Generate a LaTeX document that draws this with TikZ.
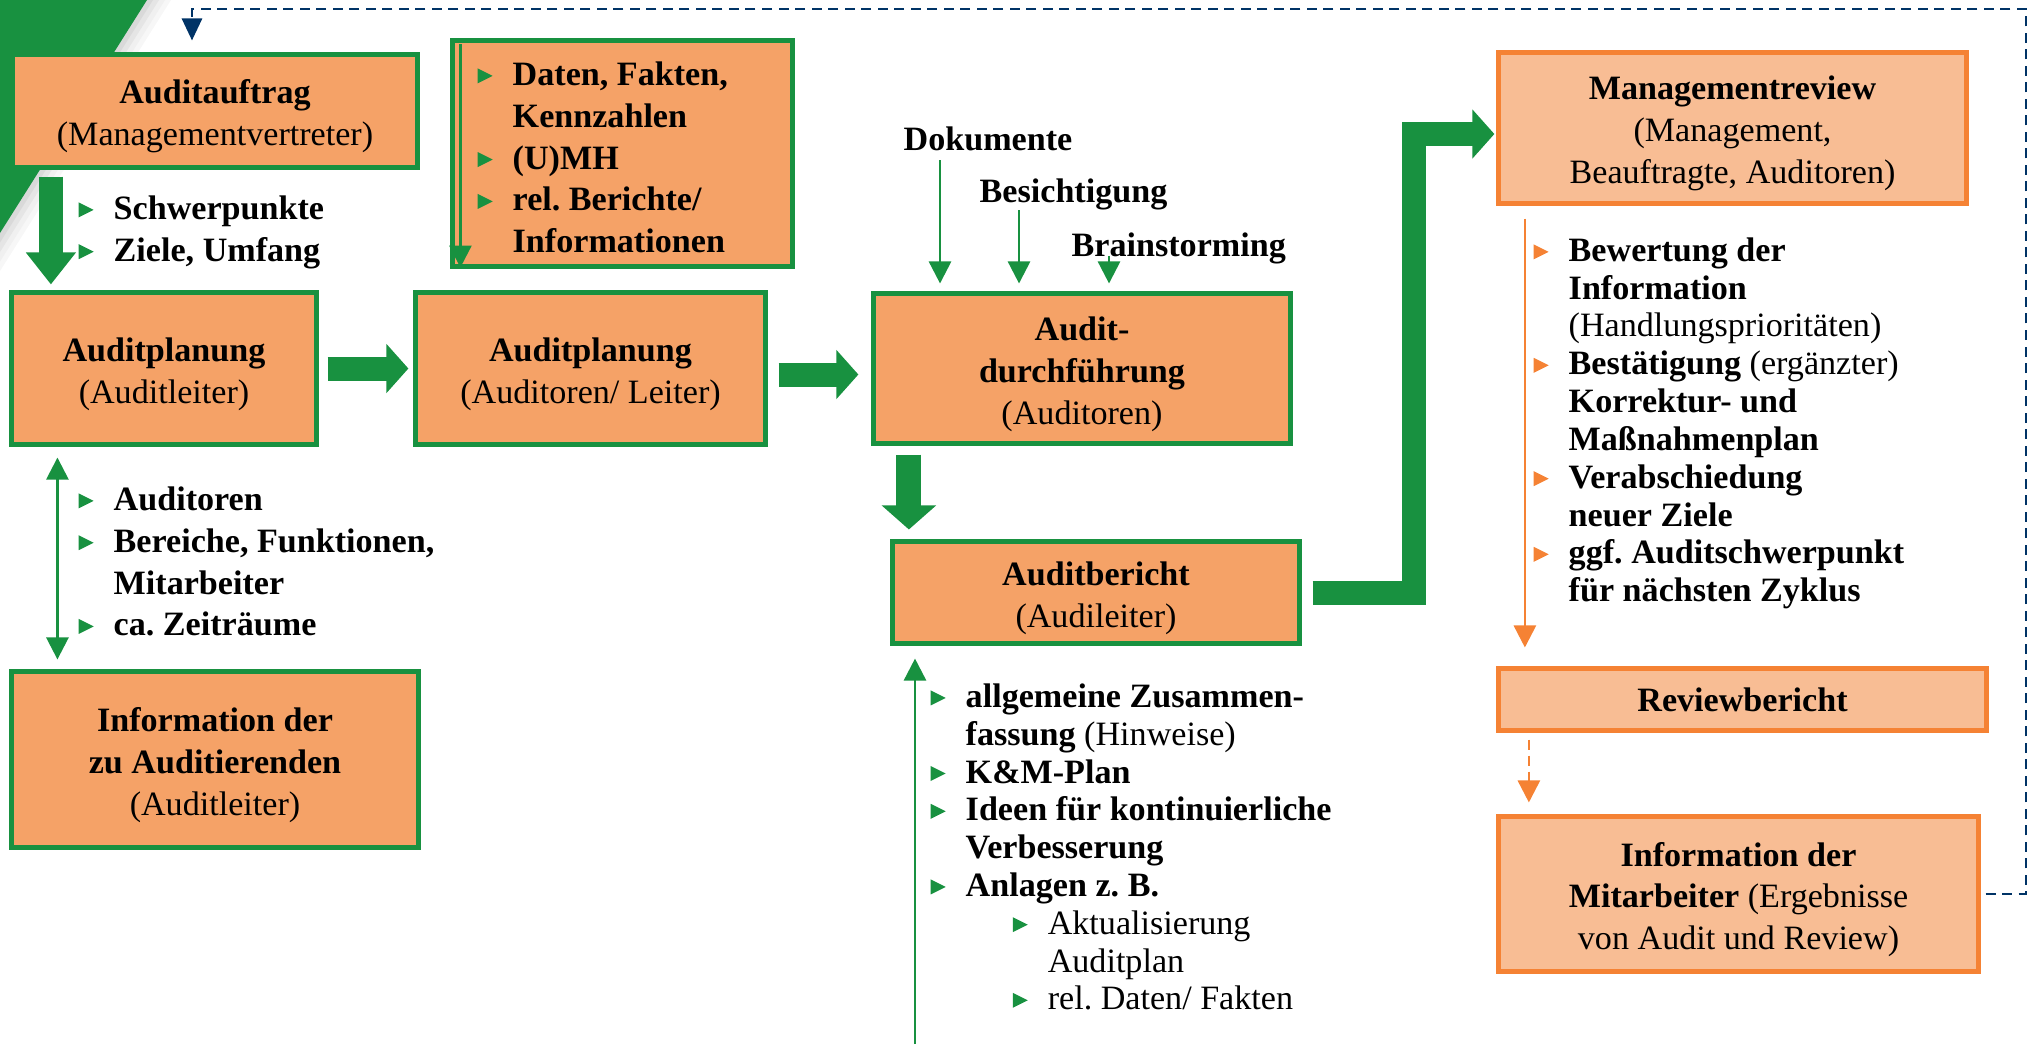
\documentclass[tikz,border=0pt]{standalone}
\usepackage{fontspec}
\setmainfont{Liberation Serif}
\usepackage{xcolor}
\usepackage{tikz}
\usetikzlibrary{arrows.meta,calc,positioning}
\definecolor{auditgreen}{RGB}{24,145,64}
\definecolor{auditorange}{RGB}{245,162,103}
\definecolor{revorange}{RGB}{245,130,52}
\definecolor{revfill}{RGB}{248,189,148}
\definecolor{backnavy}{RGB}{0,51,102}
\newcommand{\bul}[1][auditgreen]{\makebox[0.35cm][l]{\tikz[baseline=0pt]\fill[#1] (0cm,0.02cm) -- (0cm,0.17cm) -- (0.15cm,0.095cm) -- cycle;}}
\newcommand{\gap}{\hspace*{0.35cm}}
\newcommand{\tp}{\rule{0pt}{0.35cm}}
\newcommand{\boxfont}{\fontsize{9.7}{11.9}\selectfont}
\newcommand{\listfont}{\fontsize{9.7}{10.75}\selectfont}
\frenchspacing

\begin{document}
\begin{tikzpicture}[x=0.01cm, y=-0.01cm,
	greenbox/.style={draw=auditgreen, line width=0.05cm, fill=auditorange, align=center, inner sep=0pt, font=\boxfont},
	revbox/.style={draw=revorange, line width=0.05cm, fill=revfill, align=center, inner sep=0pt, font=\boxfont},
	listnode/.style={anchor=north west, inner sep=0pt, align=left, font=\boxfont\bfseries},
	labelnode/.style={anchor=base west, inner sep=0pt, font=\boxfont\bfseries},
	fatarrow/.style={auditgreen, line width=0.24cm, -{Triangle[length=0.22cm,width=0.48cm]}},
	thinarrow/.style={auditgreen, line width=0.75pt, -{Triangle[length=0.22cm,width=0.22cm]}},
	backline/.style={backnavy, line width=0.8pt, dash pattern=on 0.1cm off 0.065cm, -{Triangle[length=0.22cm,width=0.2cm]}}
	]

	\useasboundingbox (0,0) rectangle (2033,1044);

	% green corner with its shadow
	\foreach \d/\g in {24/6, 18/12, 12/20, 6/30}
		\fill[gray!\g] (0,0) -- ({147+\d},0) -- (0,{233+1.585*\d}) -- cycle;
	\fill[auditgreen] (0,0) -- (147,0) -- (0,233) -- cycle;

	% boxes
	\node[greenbox, minimum width=4.05cm, minimum height=1.13cm] (auftrag) at (215,111)
		{\tp\textbf{Auditauftrag}\\(Managementvertreter)};
	\node[greenbox, minimum width=3.05cm, minimum height=1.52cm] (plan1) at (164,368.5)
		{\tp\textbf{Auditplanung}\\(Auditleiter)};
	\node[greenbox, minimum width=3.50cm, minimum height=1.52cm] (plan2) at (590.5,368.5)
		{\tp\textbf{Auditplanung}\\(Auditoren/ Leiter)};
	\node[greenbox, minimum width=3.40cm, minimum height=2.26cm] (data) at (622.5,153.5) {};
	\node[greenbox, minimum width=4.07cm, minimum height=1.76cm] (infoaud) at (215,759.5)
		{\tp\textbf{Information der}\\\textbf{zu Auditierenden}\\(Auditleiter)};
	\node[greenbox, minimum width=4.17cm, minimum height=1.50cm] (audit) at (1082,368.5)
		{\tp\textbf{Audit-}\\\textbf{durchführung}\\(Auditoren)};
	\node[greenbox, minimum width=4.07cm, minimum height=1.02cm] (bericht) at (1096,592.5)
		{\tp\textbf{Auditbericht}\\(Audileiter)};
	\node[revbox, minimum width=4.68cm, minimum height=1.51cm] (review) at (1732.5,128)
		{\tp\textbf{Managementreview}\\(Management,\\Beauftragte, Auditoren)};
	\node[revbox, minimum width=4.88cm, minimum height=0.62cm] (revber) at (1742.5,699.5)
		{\textbf{Reviewbericht}};
	\node[revbox, minimum width=4.80cm, minimum height=1.55cm] (infomit) at (1738.5,894)
		{\tp\textbf{Information der}\\\textbf{Mitarbeiter} (Ergebnisse\\von Audit und Review)};

	% lists
	\node[listnode] (ziele) at (78,195)
		{\bul Schwerpunkte\\\bul Ziele, Umfang};
	\node[listnode] (datalist) at (477,61)
		{\bul Daten, Fakten,\\\gap Kennzahlen\\\bul (U)MH\\\bul rel. Berichte/\\\gap Informationen};
	\node[listnode] (planlist) at (78,486)
		{\bul Auditoren\\\bul Bereiche, Funktionen,\\\gap Mitarbeiter\\\bul ca. Zeiträume};
	\node[listnode, font=\listfont\bfseries] (berichtlist) at (930,683)
		{\bul allgemeine Zusammen-\\\gap fassung {\mdseries (Hinweise)}\\\bul K\&M-Plan\\
		 \bul Ideen für kontinuierliche\\\gap Verbesserung\\\bul Anlagen z. B.\\
		 \hspace*{0.82cm}{\mdseries\bul Aktualisierung}\\\hspace*{1.17cm}{\mdseries Auditplan}\\
		 \hspace*{0.82cm}{\mdseries\bul rel. Daten/ Fakten}};
	\node[listnode, font=\listfont\bfseries] (reviewlist) at (1533,237)
		{\bul[revorange]Bewertung der\\\gap Information\\\gap{\mdseries (Handlungsprioritäten)}\\
		 \bul[revorange]Bestätigung {\mdseries (ergänzter)}\\\gap Korrektur- und\\\gap Maßnahmenplan\\
		 \bul[revorange]Verabschiedung\\\gap neuer Ziele\\
		 \bul[revorange]ggf. Auditschwerpunkt\\\gap für nächsten Zyklus};

	% inputs of the audit
	\node[labelnode] (dok) at (903,150) {Dokumente};
	\node[labelnode] (besich) at (979,202) {Besichtigung};
	\node[labelnode] (brain) at (1071,256) {Brainstorming};

	% fat arrows
	\draw[fatarrow, shorten <=0.065cm, shorten >=0.055cm, -{Triangle[length=0.32cm,width=0.48cm]}]
		([xshift=0.41cm]auftrag.south west) -- ([xshift=0.41cm]auftrag.south west |- plan1.north);
	\draw[fatarrow, shorten <=0.085cm, shorten >=0.045cm] (plan1.east) -- (plan2.west);
	\draw[fatarrow, shorten <=0.105cm, shorten >=0.125cm]
		([yshift=-0.06cm]plan2.east) -- ([yshift=-0.06cm]audit.west);
	\draw[fatarrow, line width=0.25cm, shorten <=0.085cm, shorten >=0.095cm, -{Triangle[length=0.24cm,width=0.53cm]}]
		([xshift=0.38cm]audit.south west) -- ([xshift=0.38cm]audit.south west |- bericht.north);
	\draw[fatarrow, line join=miter, shorten <=0.105cm, shorten >=0.015cm]
		(bericht.east) -| ([xshift=-0.82cm, yshift=-0.06cm]review.west) -- ([yshift=-0.06cm]review.west);

	% thin arrows
	\draw[thinarrow, shorten <=0.065cm, shorten >=0.015cm]
		([xshift=0.105cm]data.north west) -- ([xshift=0.105cm]data.south west);
	\draw[thinarrow, {Triangle[length=0.22cm,width=0.22cm]}-{Triangle[length=0.22cm,width=0.22cm]}, shorten <=0.105cm, shorten >=0.095cm]
		([xshift=0.485cm]plan1.south west) -- ([xshift=0.485cm]plan1.south west |- infoaud.north);
	\draw[thinarrow, shorten <=0.09cm, shorten >=0.075cm]
		([xshift=0.37cm]dok.south west) -- ([xshift=0.37cm]dok.south west |- audit.north);
	\draw[thinarrow, shorten >=0.075cm]
		([xshift=0.40cm]besich.south west) -- ([xshift=0.40cm]besich.south west |- audit.north);
	\draw[thinarrow, shorten >=0.075cm]
		([xshift=0.38cm]brain.base west) -- ([xshift=0.38cm]brain.base west |- audit.north);
	\coordinate (berfoot) at (915,1044);
	\draw[thinarrow, shorten >=0.125cm] (berfoot) -- (berfoot |- bericht.south);
	\draw[thinarrow, revorange, shorten <=0.125cm, shorten >=0.185cm]
		([xshift=0.29cm]review.south west) -- ([xshift=0.29cm]review.south west |- revber.north);
	\draw[thinarrow, revorange, dash pattern=on 0.1cm off 0.06cm, shorten <=0.065cm, shorten >=0.115cm]
		([xshift=0.33cm]revber.south west) -- ([xshift=0.33cm]revber.south west |- infomit.north);

	% back to the order
	\draw[backline, shorten <=0.045cm, shorten >=0.115cm]
		(infomit.east) -| (2026,9) -| ([xshift=-0.23cm]auftrag.north);

\end{tikzpicture}
\end{document}
